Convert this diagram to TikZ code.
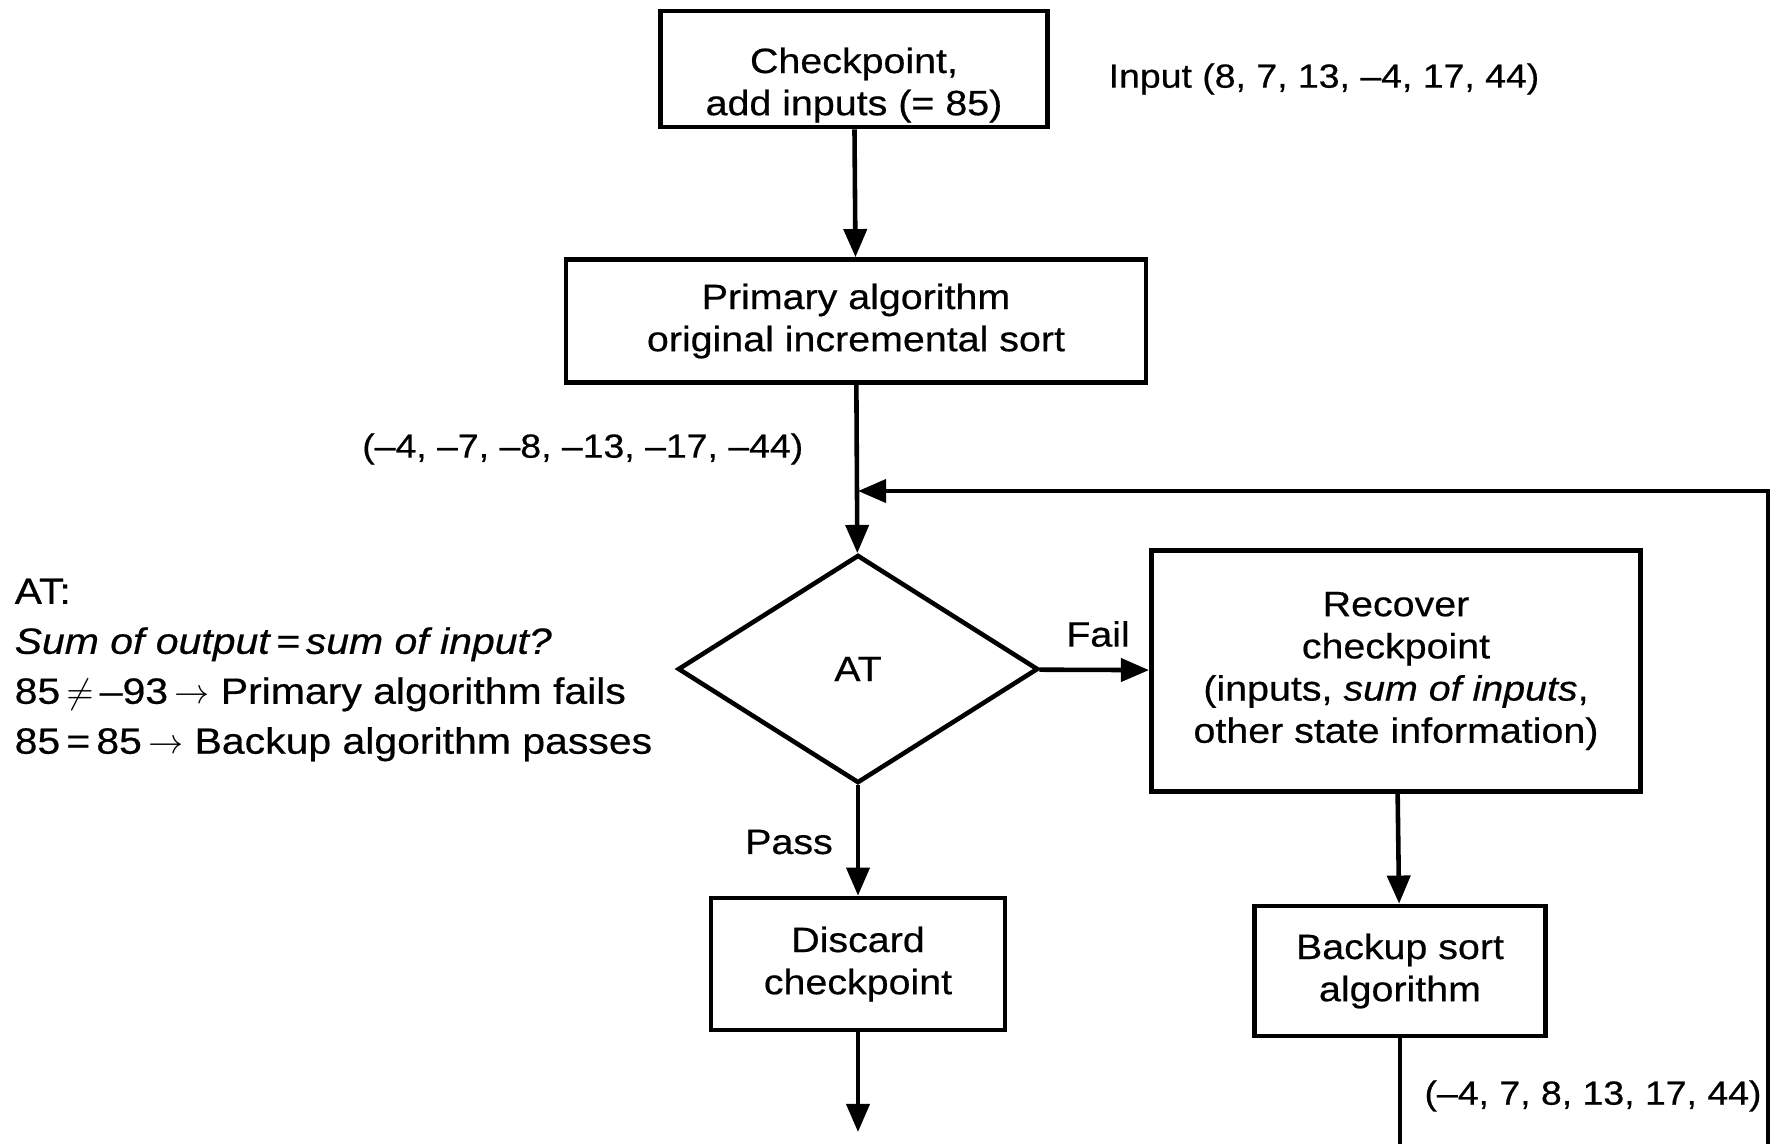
\documentclass[tikz,border=0pt]{standalone}
\usepackage{fontspec}
\setmainfont{Liberation Sans}[FakeStretch=1.12,FakeBold=0.5]
\usetikzlibrary{shapes.geometric}
\usetikzlibrary{arrows.meta}
\newcommand{\mainx}{858}
\newcommand{\loopx}{1768}
\newcommand{\loopy}{491}
\newcommand{\pagey}{1144}
\tikzset{
  stepbox/.style={draw,line width=1.3pt,align=center,inner sep=0pt},
  testbox/.style={diamond,draw,line width=1.3pt,inner sep=0pt},
  flow/.style={line width=1.3pt,-{Triangle[length=8pt,width=6.5pt]}},
  plainline/.style={line width=1.3pt},
  numlabel/.style={inner sep=0pt,font=\fontsize{9.5}{12}\selectfont},
  note/.style={inner sep=0pt,align=left},
}

\begin{document}
\begin{tikzpicture}[x=0.01cm,y=-0.01cm,font=\fontsize{10}{12}\selectfont]
    \useasboundingbox (0,0) rectangle (1775,\pagey);
    % boxes of the main path
    \node[stepbox,minimum width=3.87cm,minimum height=1.16cm,
      label={[align=center,yshift=-0.16cm]center:{Checkpoint,\\add inputs (= 85)}}]
      (chk) at (854,69) {};
    \node[stepbox,minimum width=5.8cm,minimum height=1.23cm] (prim) at (856,321)
      {Primary algorithm\\original incremental sort};
    \node[testbox,minimum width=3.6cm,minimum height=2.28cm] (at) at (\mainx,669) {AT};
    \node[stepbox,minimum width=2.94cm,minimum height=1.32cm] (disc) at (\mainx,964)
      {Discard\\checkpoint};
    % boxes of the backup path
    \node[stepbox,minimum width=4.89cm,minimum height=2.41cm] (rec) at (1396,671)
      {Recover\\checkpoint\\(inputs, \textit{sum of inputs},\\other state information)};
    \node[stepbox,minimum width=2.91cm,minimum height=1.3cm] (bak) at (1400,971)
      {Backup sort\\algorithm};
    % free ends
    \coordinate (out) at (\mainx,1132);
    \coordinate (bakend) at (1400,\pagey);
    \coordinate (loopb) at (\loopx,\pagey);
    \coordinate (loopr) at (\loopx,\loopy);
    \coordinate (loopl) at (\mainx,\loopy);
    % connectors
    \draw[flow] (chk) -- (prim);
    \draw[flow] (prim) -- (at);
    \draw[flow] (at) -- (rec);
    \draw[flow] (at) -- (disc);
    \draw[flow] (rec) -- (bak);
    \draw[flow] (disc) -- (out);
    \draw[plainline] (bak) -- (bakend);
    \draw[flow] (loopb) -- (loopr) -- (loopl);
    % labels
    \node[numlabel] (inlbl) at (1324,79) {Input (8, 7, 13, –4, 17, 44)};
    \node[numlabel,anchor=east] (outlbl) at (804,449)
      {(–4, –7, –8, –13, –17, –44)};
    \node[numlabel] (baklbl) at (1593,1096) {(–4, 7, 8, 13, 17, 44)};
    \node[inner sep=0pt] (fail) at (1098,634) {Fail};
    \node[inner sep=0pt] (pass) at (789,842) {Pass};
    \node[note,anchor=north west,font=\fontsize{10.4}{14.2}\selectfont] (atnote) at (14,578)
      {AT:\\\textit{Sum of output\,=\,sum of input?}\\
       85\,$\neq$\,–93\,$\rightarrow$ Primary algorithm fails\\
       85\,=\,85\,$\rightarrow$ Backup algorithm passes};
  \end{tikzpicture}
\end{document}
